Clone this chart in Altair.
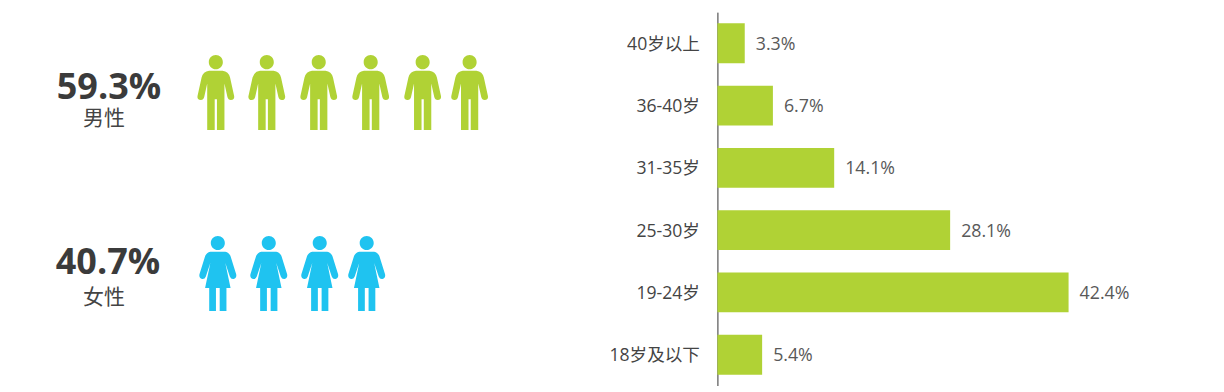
import altair as alt
import pandas as pd

GREEN = "#b0d235"
BLUE = "#1fc3f0"
FONT = "Open Sans, Noto Sans CJK SC"

age_labels = ["40岁以上", "36-40岁", "31-35岁", "25-30岁", "19-24岁", "18岁及以下"]
age_values = [3.3, 6.7, 14.1, 28.1, 42.4, 5.4]
male_people = [0, 1, 2, 3, 4, 5]
female_people = [0, 1, 2, 3]
male_pct, female_pct = "59.3%", "40.7%"
male_label, female_label = "男性", "女性"

# Icon outlines in a -1..1 unit square (vega custom symbol)
MAN = (
    "M-0.1875,-0.8125 a0.1875,0.1875 0 1 0 0.375,0 a0.1875,0.1875 0 1 0 -0.375,0 Z "
    "M-0.18,-0.58 L0.18,-0.58 Q0.34,-0.56 0.38,-0.40 L0.49,0.10 Q0.50,0.20 0.40,0.20 Q0.33,0.20 0.31,0.12 "
    "L0.23,-0.24 L0.23,0.13 L0.23,1 L0.03,1 L0.03,0.18 L-0.03,0.18 L-0.03,1 L-0.23,1 L-0.23,0.13 "
    "L-0.23,-0.24 L-0.31,0.12 Q-0.33,0.20 -0.40,0.20 Q-0.50,0.20 -0.49,0.10 L-0.38,-0.40 Q-0.34,-0.56 -0.18,-0.58 Z"
)
WOMAN = (
    "M-0.1875,-0.8125 a0.1875,0.1875 0 1 0 0.375,0 a0.1875,0.1875 0 1 0 -0.375,0 Z "
    "M-0.20,-0.58 L0.20,-0.58 Q0.30,-0.56 0.34,-0.46 L0.49,0.02 Q0.51,0.13 0.42,0.15 Q0.35,0.16 0.32,0.08 "
    "L0.20,-0.28 L0.34,0.39 L0.23,0.39 L0.23,1 L0.05,1 L0.05,0.39 L-0.05,0.39 L-0.05,1 L-0.23,1 L-0.23,0.39 "
    "L-0.34,0.39 L-0.20,-0.28 L-0.32,0.08 Q-0.35,0.16 -0.42,0.15 Q-0.51,0.13 -0.49,0.02 L-0.34,-0.46 Q-0.30,-0.56 -0.20,-0.58 Z"
)

LEFT_W = 600
PANEL_H = 374


def people(idx, shape, colour, centres, row_y):
    return (
        alt.Chart(pd.DataFrame({"p": idx}))
        .mark_point(shape=shape, filled=True, fill=colour, size=5625, opacity=1, strokeWidth=0)
        .encode(
            x=alt.X("p:Q", axis=None, scale=alt.Scale(domain=idx, range=centres)),
            y=alt.value(row_y),
        )
    )


def label(text, x, y, size, weight, colour):
    return (
        alt.Chart(pd.DataFrame({"t": [text]}))
        .mark_text(font=FONT, fontSize=size, fontWeight=weight, color=colour, align="center", baseline="middle")
        .encode(text="t:N", x=alt.value(x), y=alt.value(y))
    )


left = alt.layer(
    people(male_people, MAN, GREEN, [208, 259, 311, 363, 415, 462], 80.5),
    people(female_people, WOMAN, BLUE, [210, 261, 312, 359], 261.5),
    label(male_pct, 101, 76, 36, "bold", "#3b3b3b"),
    label(male_label, 96, 107, 21, "normal", "#444444"),
    label(female_pct, 100, 251, 36, "bold", "#3b3b3b"),
    label(female_label, 96, 286, 21, "normal", "#444444"),
).resolve_scale(x="independent").properties(width=LEFT_W, height=PANEL_H)

df = pd.DataFrame({"age": age_labels, "v": age_values, "t": [f"{v}%" for v in age_values]})
y = alt.Y(
    "age:N",
    sort=age_labels,
    title=None,
    scale=alt.Scale(paddingInner=0.36, paddingOuter=0.18),
    axis=alt.Axis(
        ticks=False, domain=True, domainColor="#333333", domainWidth=1, labelFont=FONT,
        labelFontSize=17.6, labelColor="#444444", labelPadding=18, labelOffset=1.5,
        minExtent=110, maxExtent=110, grid=False,
    ),
)
x = alt.X("v:Q", axis=None, scale=alt.Scale(domain=[0, 60.2], nice=False))
bars = alt.Chart(df).mark_bar(color=GREEN).encode(x=x, y=y)
vals = (
    alt.Chart(df)
    .mark_text(font=FONT, fontSize=17.8, color="#595959", align="left", baseline="middle", dx=11, dy=1.5)
    .encode(x=x, y=y, text="t:N")
)
right = (bars + vals).properties(width=499, height=PANEL_H)

chart = (
    alt.hconcat(left, right, spacing=0)
    .properties(padding={"left": 0, "top": 4, "right": 0, "bottom": 0}, background="white")
    .configure_view(stroke=None)
)
chart.save("out.html", embed_options={"renderer": "svg", "actions": False})
